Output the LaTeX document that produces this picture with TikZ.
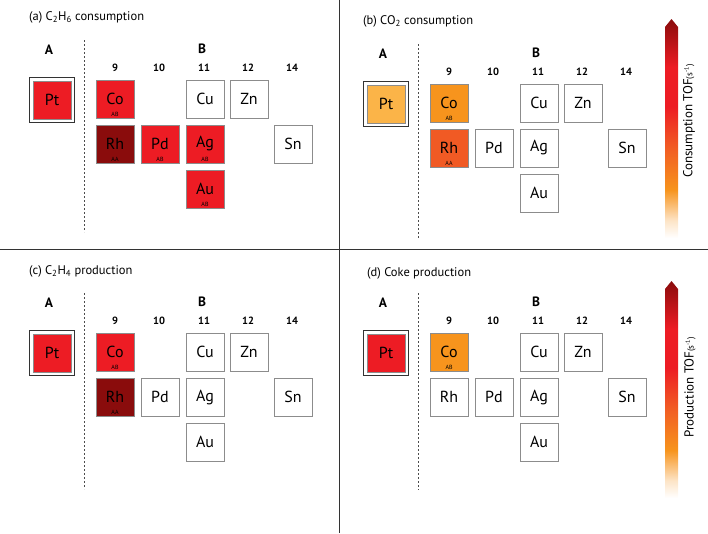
\documentclass[tikz,border=0pt]{standalone}
\usepackage{fontspec}
\setmainfont{PT Sans}
\usepackage{xcolor}

\definecolor{tofred}{HTML}{ED1C24}
\definecolor{tofdark}{HTML}{8A0C0C}
\definecolor{toforange}{HTML}{F7941D}
\definecolor{toflight}{HTML}{FBB448}
\definecolor{tofredorange}{HTML}{F15A24}

\pgfdeclareverticalshading{tofbar}{100bp}{color(0bp)=(white); color(25bp)=(white); color(29bp)=(toforange!25!white); color(36bp)=(toforange); color(46bp)=(tofredorange); color(55bp)=(tofred); color(64bp)=(tofred); color(75bp)=(tofdark); color(100bp)=(tofdark)}

\tikzset{
  elem/.style={draw=black!45, line width=0.6pt, minimum size=38pt, inner sep=0pt, font=\fontsize{16}{16}\selectfont},
  sitetag/.style={above, inner sep=1.5pt, font=\fontsize{6}{6}\selectfont},
  colnum/.style={font=\bfseries\fontsize{10.5}{10.5}\selectfont},
  sitelabel/.style={font=\bfseries\fontsize{13.5}{13.5}\selectfont},
  paneltitle/.style={anchor=west, inner sep=0pt, font=\fontsize{12.5}{13}\selectfont},
  ptframe/.style={draw=black!80, line width=1pt},
  divider/.style={draw=black!80, line width=0.8pt},
  siteline/.style={draw=black!70, dash pattern=on 2pt off 2pt, line width=0.5pt},
  barlabel/.style={rotate=90, font=\fontsize{13}{13}\selectfont},
}

\begin{document}
\begin{tikzpicture}[x=1pt, y=-1pt]
    \useasboundingbox (0,0) rectangle (708,533);

    % Panel borders
    \draw[divider] (339,0) -- (339,533);
    \draw[divider] (0,249) -- (708,249);

    % (a) C2H6 consumption
    \node[paneltitle] (atitle) at (29,17) {(a) C\textsubscript{2}H\textsubscript{6} consumption};
    \node[sitelabel] (aA) at (49,50) {A};
    \node[sitelabel] (aB) at (202,49) {B};
    \draw[siteline] (84,40) -- (84,232);
    \node[colnum] (a9)  at (115,68) {9};
    \node[colnum] (a10) at (159,68) {10};
    \node[colnum] (a11) at (204,68) {11};
    \node[colnum] (a12) at (248,68) {12};
    \node[colnum] (a14) at (292,68) {14};
    % Host metal
    \node[elem, fill=tofred] (aPt) at (52,100) {Pt};
    \draw[ptframe] ([shift={(-3pt,3pt)}]aPt.north west) rectangle ([shift={(3pt,-3pt)}]aPt.south east);
    % Second metals
    \node[elem, fill=tofred] (aCo) at (115,99) {Co};
    \node[sitetag] (aCoT) at (aCo.south) {AB};
    \node[elem] (aCu) at (205,99) {Cu};
    \node[elem] (aZn) at (249,99) {Zn};
    \node[elem, fill=tofdark] (aRh) at (115,144) {Rh};
    \node[sitetag] (aRhT) at (aRh.south) {AA};
    \node[elem, fill=tofred] (aPd) at (160,144) {Pd};
    \node[sitetag] (aPdT) at (aPd.south) {AB};
    \node[elem, fill=tofred] (aAg) at (205,144) {Ag};
    \node[sitetag] (aAgT) at (aAg.south) {AB};
    \node[elem] (aSn) at (293,144) {Sn};
    \node[elem, fill=tofred] (aAu) at (205,189) {Au};
    \node[sitetag] (aAuT) at (aAu.south) {AB};

    % (b) CO2 consumption
    \begin{scope}[shift={(334,4)}]
    \node[paneltitle] (btitle) at (29,17) {(b) CO\textsubscript{2} consumption};
    \node[sitelabel] (bA) at (49,50) {A};
    \node[sitelabel] (bB) at (202,49) {B};
    \draw[siteline] (84,40) -- (84,234);
    \node[colnum] (b9)  at (115,68) {9};
    \node[colnum] (b10) at (159,68) {10};
    \node[colnum] (b11) at (204,68) {11};
    \node[colnum] (b12) at (248,68) {12};
    \node[colnum] (b14) at (292,68) {14};
    % Host metal
    \node[elem, fill=toflight] (bPt) at (52,100) {Pt};
    \draw[ptframe] ([shift={(-3pt,3pt)}]bPt.north west) rectangle ([shift={(3pt,-3pt)}]bPt.south east);
    % Second metals
    \node[elem, fill=toforange] (bCo) at (115,99) {Co};
    \node[sitetag] (bCoT) at (bCo.south) {AB};
    \node[elem] (bCu) at (205,99) {Cu};
    \node[elem] (bZn) at (249,99) {Zn};
    \node[elem, fill=tofredorange] (bRh) at (115,144) {Rh};
    \node[sitetag] (bRhT) at (bRh.south) {AA};
    \node[elem] (bPd) at (160,144) {Pd};
    \node[elem] (bAg) at (205,144) {Ag};
    \node[elem] (bSn) at (293,144) {Sn};
    \node[elem] (bAu) at (205,189) {Au};
    \end{scope}

    % (c) C2H4 production
    \begin{scope}[shift={(0,253)}]
    \node[paneltitle] (ctitle) at (29,18) {(c) C\textsubscript{2}H\textsubscript{4} production};
    \node[sitelabel] (cA) at (49,50) {A};
    \node[sitelabel] (cB) at (202,49) {B};
    \draw[siteline] (84,40) -- (84,236);
    \node[colnum] (c9)  at (115,68) {9};
    \node[colnum] (c10) at (159,68) {10};
    \node[colnum] (c11) at (204,68) {11};
    \node[colnum] (c12) at (248,68) {12};
    \node[colnum] (c14) at (292,68) {14};
    % Host metal
    \node[elem, fill=tofred] (cPt) at (52,100) {Pt};
    \draw[ptframe] ([shift={(-3pt,3pt)}]cPt.north west) rectangle ([shift={(3pt,-3pt)}]cPt.south east);
    % Second metals
    \node[elem, fill=tofred] (cCo) at (115,99) {Co};
    \node[sitetag] (cCoT) at (cCo.south) {AB};
    \node[elem] (cCu) at (205,99) {Cu};
    \node[elem] (cZn) at (249,99) {Zn};
    \node[elem, fill=tofdark] (cRh) at (115,144) {Rh};
    \node[sitetag] (cRhT) at (cRh.south) {AA};
    \node[elem] (cPd) at (160,144) {Pd};
    \node[elem] (cAg) at (205,144) {Ag};
    \node[elem] (cSn) at (293,144) {Sn};
    \node[elem] (cAu) at (205,189) {Au};
    \end{scope}

    % (d) Coke production
    \begin{scope}[shift={(334,253)}]
    \node[paneltitle] (dtitle) at (33,20) {(d) Coke production};
    \node[sitelabel] (dA) at (49,50) {A};
    \node[sitelabel] (dB) at (202,49) {B};
    \draw[siteline] (84,40) -- (84,237);
    \node[colnum] (d9)  at (115,68) {9};
    \node[colnum] (d10) at (159,68) {10};
    \node[colnum] (d11) at (204,68) {11};
    \node[colnum] (d12) at (248,68) {12};
    \node[colnum] (d14) at (292,68) {14};
    % Host metal
    \node[elem, fill=tofred] (dPt) at (52,100) {Pt};
    \draw[ptframe] ([shift={(-3pt,3pt)}]dPt.north west) rectangle ([shift={(3pt,-3pt)}]dPt.south east);
    % Second metals
    \node[elem, fill=toforange] (dCo) at (115,99) {Co};
    \node[sitetag] (dCoT) at (dCo.south) {AB};
    \node[elem] (dCu) at (205,99) {Cu};
    \node[elem] (dZn) at (249,99) {Zn};
    \node[elem] (dRh) at (115,144) {Rh};
    \node[elem] (dPd) at (160,144) {Pd};
    \node[elem] (dAg) at (205,144) {Ag};
    \node[elem] (dSn) at (293,144) {Sn};
    \node[elem] (dAu) at (205,189) {Au};
    \end{scope}

    % TOF colour bars
    \path[shading=tofbar] (665,238) -- (665,27) -- (671.5,19) -- (678,27) -- (678,238) -- cycle;
    \node[barlabel] (bbar) at (689,121) {Consumption TOF{\fontsize{9}{9}\selectfont(s\textsuperscript{-1})}};
    \path[shading=tofbar] (665,498) -- (665,289) -- (671.5,281) -- (678,289) -- (678,498) -- cycle;
    \node[barlabel] (dbar) at (690,387) {Production TOF{\fontsize{9}{9}\selectfont(s\textsuperscript{-1})}};

\end{tikzpicture}
\end{document}
